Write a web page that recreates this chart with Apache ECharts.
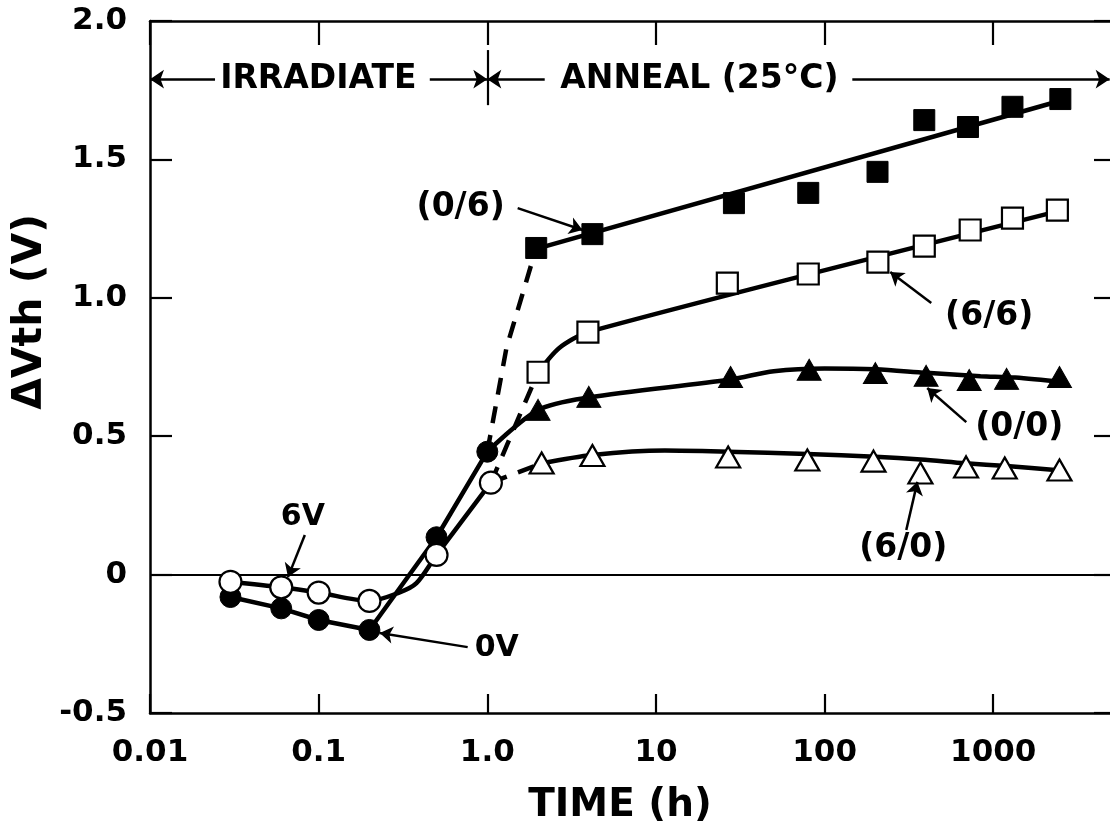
<!DOCTYPE html>
<html><head><meta charset="utf-8">
<script src="https://cdn.jsdelivr.net/npm/echarts@6/dist/echarts.min.js"></script>
<style>html,body{margin:0;padding:0;background:#fff}#c{width:1110px;height:829px}</style>
</head><body><div id="c"></div>
<script>
// ---- axis ticks ----
const xTickValues = [0.01, 0.1, 1, 10, 100, 1000];
const xTickLabels = ['0.01', '0.1', '1.0', '10', '100', '1000'];
const yTickValues = [-0.5, 0, 0.5, 1.0, 1.5, 2.0];
const yTickLabels = ['-0.5', '0', '0.5', '1.0', '1.5', '2.0'];

// ---- irradiation phase (h, V) ----
const irrTime0V = [0.03, 0.06, 0.1, 0.2, 0.5, 1.0];
const irrVth0V  = [-0.081, -0.122, -0.164, -0.200, 0.135, 0.444];
const irrTime6V = [0.03, 0.06, 0.1, 0.2, 0.5, 1.05];
const irrVth6V  = [-0.026, -0.046, -0.065, -0.095, 0.071, 0.332];
const curveTime6V = [0.03, 0.06, 0.1, 0.2, 0.3, 0.38, 0.5, 1.05];
const curveVth6V  = [-0.026, -0.046, -0.065, -0.095, -0.065, -0.031, 0.071, 0.332];

// ---- anneal phase markers ----
const time06 = [1.95, 4.2, 29, 80, 206, 390, 708, 1300, 2500];
const vth06  = [1.18, 1.23, 1.342, 1.379, 1.455, 1.642, 1.617, 1.69, 1.718];
const time66 = [2.0, 3.95, 26.5, 80, 207, 390, 730, 1300, 2400];
const vth66  = [0.731, 0.876, 1.053, 1.086, 1.129, 1.187, 1.245, 1.288, 1.317];
const time00 = [2.0, 4.0, 27.7, 81, 200, 400, 720, 1200, 2470];
const vth00  = [0.595, 0.642, 0.714, 0.74, 0.728, 0.718, 0.703, 0.707, 0.714];
const time60 = [2.1, 4.2, 26.8, 79, 195, 370, 690, 1170, 2470];
const vth60  = [0.403, 0.43, 0.425, 0.414, 0.41, 0.367, 0.389, 0.385, 0.378];

// ---- anneal phase drawn curves ----
const fitTime06 = [1.95, 2500];
const fitVth06  = [1.177, 1.712];
const fitTime66 = [2.0, 2.66, 3.95, 2400];
const fitVth66  = [0.731, 0.818, 0.876, 1.312];
const fitTime00 = [1.0, 2.0, 4.0, 27.7, 50, 100, 200, 400, 840, 1350, 2600];
const fitVth00  = [0.444, 0.595, 0.64, 0.705, 0.735, 0.745, 0.742, 0.729, 0.717, 0.712, 0.695];
const fitTime60 = [2.1, 4.2, 11.3, 26.7, 79, 200, 372, 685, 1200, 2630];
const fitVth60  = [0.402, 0.432, 0.448, 0.444, 0.436, 0.426, 0.416, 0.402, 0.392, 0.375];

// ---- dashed transitions ----
const dashTime06 = [1.0, 1.3, 1.95];
const dashVth06  = [0.444, 0.82, 1.18];
const dashTime66 = [1.05, 2.0];
const dashVth66  = [0.332, 0.731];
const dashTime60 = [1.05, 2.1];
const dashVth60  = [0.332, 0.402];

// ---- annotations (data coordinates) ----
const noteTexts = ['6V', '0V', '(0/6)', '(6/6)', '(0/0)', '(6/0)'];
const noteTime  = [0.0806, 1.137, 0.695, 946, 1426, 293];
const noteVth   = [0.208, -0.265, 1.328, 0.934, 0.53, 0.096];
const arrowTail = [[0.0828, 0.143], [0.765, -0.262], [1.514, 1.324], [429, 0.981], [692, 0.551], [305, 0.161]];
const arrowHead = [[0.0658, -0.009], [0.2305, -0.211], [3.67, 1.245], [245, 1.093], [406, 0.674], [355, 0.335]];

// ---- phase banner ----
const bannerTexts = ['IRRADIATE', 'ANNEAL (25°C)'];
const bannerTime  = [0.0996, 18.1];
const bannerVth   = 1.79;
const bannerArrowTail = [0.0243, 0.456, 2.19, 146];
const bannerArrowHead = [0.01, 1.0, 1.0, 4900];
const dividerTime = 1.0;
const dividerVth = [1.895, 1.696];

const FONT = 'DejaVu Sans';
const zip = (a, b) => a.map((v, i) => [v, b[i]]);
const near = (vals, labels, v, log) => {
  for (let i = 0; i < vals.length; i++) {
    const d = log ? Math.abs(Math.log10(v) - Math.log10(vals[i])) : Math.abs(v - vals[i]);
    if (d < 1e-3) return labels[i];
  }
  return '';
};

const lineS = (data, extra) => Object.assign({
  type: 'line', data, symbol: 'none', showSymbol: false, silent: true, z: 2,
  lineStyle: { color: '#000', width: 4.5, opacity: 1 }
}, extra || {});
const dashS = (data) => lineS(data, { lineStyle: { color: '#000', width: 4.5, opacity: 1, type: [17, 12] } });

const openStyle = { color: '#fff', borderColor: '#000', borderWidth: 2.2, opacity: 1 };
const fillStyle = { color: '#000', borderColor: '#000', borderWidth: 1, opacity: 1 };
const markS = (data, symbol, size, style) => ({
  type: 'scatter', data, symbol, symbolSize: size, itemStyle: style, z: 5, silent: true
});
const labelItem = { color: 'rgba(0,0,0,0)', opacity: 1 };

const chart = echarts.init(document.getElementById('c'), null, { renderer: 'canvas' });
const option = {
  animation: false,
  backgroundColor: '#fff',
  textStyle: { fontFamily: FONT },
  grid: { left: 150, top: 21, right: -4, bottom: 116, outerBoundsMode: 'none', containLabel: false },
  xAxis: [
    { type: 'log', logBase: 10, min: 0.01, max: 5200, position: 'bottom',
      axisLine: { onZero: false, lineStyle: { color: '#000', width: 2.5 } },
      axisTick: { inside: true, length: 19, lineStyle: { color: '#000', width: 2.2 } },
      splitLine: { show: false }, minorTick: { show: false },
      axisLabel: { margin: 24, color: '#000', fontFamily: FONT, fontWeight: 'bold', fontSize: 31,
        formatter: v => near(xTickValues, xTickLabels, v, true) } },
    { type: 'log', logBase: 10, min: 0.01, max: 5200, position: 'top',
      axisLine: { onZero: false, lineStyle: { color: '#000', width: 2.5 } },
      axisTick: { inside: true, length: 24, lineStyle: { color: '#000', width: 2.2 } },
      splitLine: { show: false }, axisLabel: { show: false } }
  ],
  yAxis: [
    { type: 'value', min: -0.5, max: 2.0, interval: 0.5, position: 'left',
      axisLine: { show: true, onZero: false, lineStyle: { color: '#000', width: 2.5 } },
      axisTick: { show: true, inside: true, length: 22, lineStyle: { color: '#000', width: 2.2 } },
      splitLine: { show: false },
      axisLabel: { margin: 23, color: '#000', fontFamily: FONT, fontWeight: 'bold', fontSize: 31,
        formatter: v => near(yTickValues, yTickLabels, v, false) } },
    { type: 'value', min: -0.5, max: 2.0, interval: 0.5, position: 'right',
      axisLine: { show: true, onZero: false, lineStyle: { color: '#000', width: 2.5 } },
      axisTick: { show: true, inside: true, length: 20, lineStyle: { color: '#000', width: 2.2 } },
      splitLine: { show: false }, axisLabel: { show: false } }
  ],
  graphic: [
    { type: 'text', x: 620, y: 806, silent: true,
      style: { text: 'TIME (h)', fill: '#000', font: 'bold 39px "DejaVu Sans"', align: 'center', verticalAlign: 'middle' } },
    { type: 'text', x: 30, y: 312, rotation: Math.PI / 2, silent: true,
      style: { text: 'ΔVth (V)', fill: '#000', font: 'bold 41px "DejaVu Sans"', align: 'center', verticalAlign: 'middle' } }
  ],
  series: [
    lineS(zip(irrTime0V, irrVth0V), {
      markLine: { silent: true, symbol: ['none', 'none'], label: { show: false },
        lineStyle: { color: '#000', width: 2, type: 'solid', opacity: 1 }, data: [{ yAxis: 0 }] } }),
    lineS(zip(curveTime6V, curveVth6V), { smooth: 0.3 }),
    dashS(zip(dashTime06, dashVth06)),
    dashS(zip(dashTime66, dashVth66)),
    dashS(zip(dashTime60, dashVth60)),
    lineS(zip(fitTime06, fitVth06)),
    lineS(zip(fitTime66, fitVth66), { smooth: 0.25 }),
    lineS(zip(fitTime00, fitVth00), { smooth: 0.3 }),
    lineS(zip(fitTime60, fitVth60), { smooth: 0.3 }),
    markS(zip(irrTime0V, irrVth0V), 'circle', 21, fillStyle),
    markS(zip(irrTime6V, irrVth6V), 'circle', 22, openStyle),
    markS(zip(time06, vth06), 'rect', 21, fillStyle),
    markS(zip(time66, vth66), 'rect', 21, openStyle),
    markS(zip(time00, vth00), 'triangle', [24, 21], fillStyle),
    markS(zip(time60, vth60), 'triangle', [24, 21], openStyle),
    { type: 'lines', coordinateSystem: 'cartesian2d', silent: true, z: 6,
      symbol: ['none', 'arrow'], symbolSize: 13,
      lineStyle: { color: '#000', width: 2.5, opacity: 1 },
      data: arrowTail.map((t, i) => ({ coords: [t, arrowHead[i]] })) },
    { type: 'lines', coordinateSystem: 'cartesian2d', silent: true, z: 6,
      symbol: ['none', 'arrow'], symbolSize: 14,
      lineStyle: { color: '#000', width: 2.5, opacity: 1 },
      data: bannerArrowTail.map((t, i) => ({ coords: [[t, bannerVth], [bannerArrowHead[i], bannerVth]] })) },
    { type: 'lines', coordinateSystem: 'cartesian2d', silent: true, z: 6,
      symbol: ['none', 'none'],
      lineStyle: { color: '#000', width: 2.2, opacity: 1 },
      data: [{ coords: [[dividerTime, dividerVth[0]], [dividerTime, dividerVth[1]]] }] },
    { type: 'scatter', silent: true, z: 7, symbolSize: 1, itemStyle: labelItem,
      data: noteTexts.map((n, i) => ({ name: n, value: [noteTime[i], noteVth[i]],
        label: { fontSize: i < 2 ? 30 : 33 } })),
      label: { show: true, position: 'inside', formatter: '{b}', color: '#000', opacity: 1,
        fontFamily: FONT, fontWeight: 'bold', fontSize: 33 } },
    { type: 'scatter', silent: true, z: 7, symbolSize: 1, itemStyle: labelItem,
      data: bannerTexts.map((n, i) => ({ name: n, value: [bannerTime[i], bannerVth] })),
      label: { show: true, position: 'inside', formatter: '{b}', color: '#000', opacity: 1,
        fontFamily: FONT, fontWeight: 'bold', fontSize: 33 } }
  ]
};
chart.setOption(option);
</script>
</body></html>
